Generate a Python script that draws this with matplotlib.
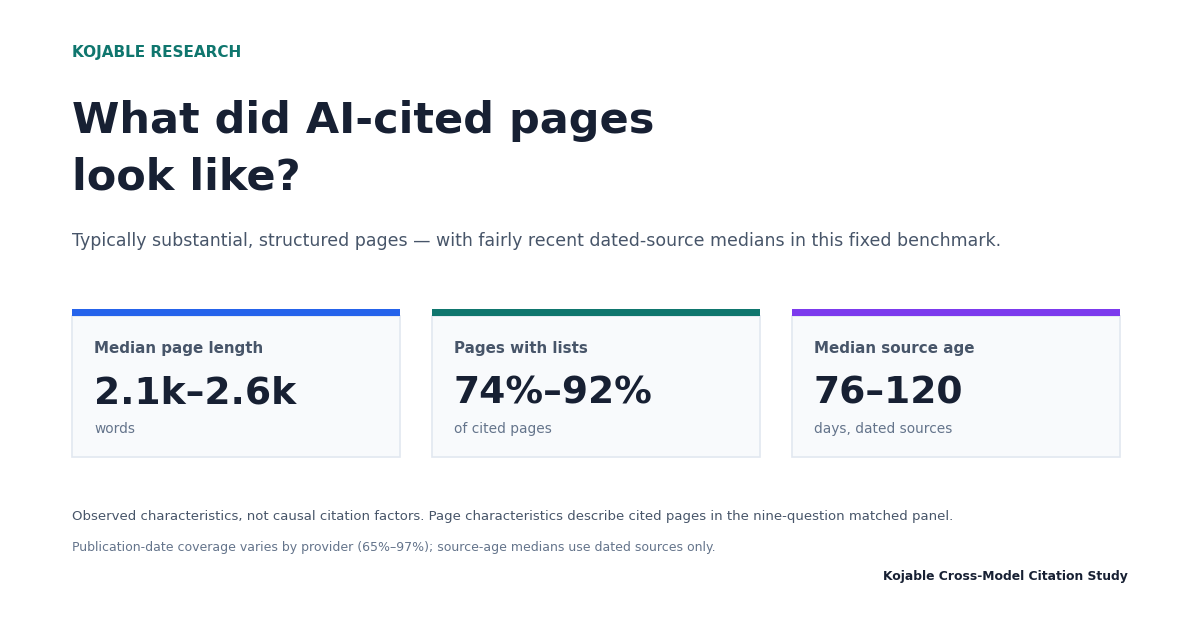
import matplotlib
matplotlib.use("Agg")
import matplotlib.pyplot as plt
from matplotlib.patches import Rectangle

plt.rcParams['font.family'] = ['DejaVu Sans']

# card data
card_labels = ["Median page length", "Pages with lists", "Median source age"]
card_values = ["2.1k–2.6k", "74%–92%", "76–120"]
card_units = ["words", "of cited pages", "days, dated sources"]
card_colors = ["#2563eb", "#0f766e", "#7c3aed"]

kicker = "KOJABLE RESEARCH"
title_lines = ["What did AI-cited pages", "look like?"]
subtitle = "Typically substantial, structured pages — with fairly recent dated-source medians in this fixed benchmark."
note1 = "Observed characteristics, not causal citation factors. Page characteristics describe cited pages in the nine-question matched panel."
note2 = "Publication-date coverage varies by provider (65%–97%); source-age medians use dated sources only."
source = "Kojable Cross-Model Citation Study"

W, H = 1200, 630
fig = plt.figure(figsize=(12, 6.3), dpi=100)
fig.patch.set_facecolor("white")
ax = fig.add_axes([0, 0, 1, 1])
ax.set_xlim(0, W)
ax.set_ylim(H, 0)
ax.axis("off")

dark = "#172033"
slate = "#475569"
muted = "#64748b"

ax.text(72, 57, kicker, fontsize=11.0, fontweight="bold", color="#0f766e", va="baseline")
ax.text(72, 133, title_lines[0], fontsize=31.0, fontweight="bold", color=dark, va="baseline")
ax.text(72, 190, title_lines[1], fontsize=31.0, fontweight="bold", color=dark, va="baseline")
ax.text(72, 246, subtitle, fontsize=12.5, color=slate, va="baseline")

card_w = 328
gap = 32
for i in range(len(card_labels)):
    x0 = 72 + i * (card_w + gap)
    ax.add_patch(Rectangle((x0, 316), card_w, 141, facecolor="#f8fafc",
                           edgecolor="#e2e8f0", linewidth=1.2))
    ax.add_patch(Rectangle((x0, 309), card_w, 7, facecolor=card_colors[i],
                           edgecolor="none"))
    ax.text(x0 + 22, 353, card_labels[i], fontsize=10.9, fontweight="bold",
            color=slate, va="baseline")
    ax.text(x0 + 22, 404, card_values[i], fontsize=27.1, fontweight="bold",
            color=dark, va="baseline")
    ax.text(x0 + 22, 433, card_units[i], fontsize=9.9, color=muted, va="baseline")

ax.text(72, 520, note1, fontsize=9.55, color=slate, va="baseline")
ax.text(72, 551, note2, fontsize=9.0, color=muted, va="baseline")
ax.text(1128, 580, source, fontsize=8.95, fontweight="bold", color=dark,
        va="baseline", ha="right")

fig.savefig("out.png", dpi=100, facecolor="white")
